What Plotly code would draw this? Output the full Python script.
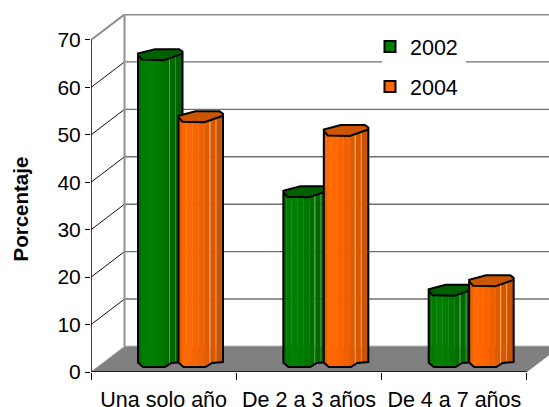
import plotly.graph_objects as go

categories = ["Una solo año", "De 2 a 3 años", "De 4 a 7 años"]
years = ["2002", "2004"]
values_2002 = [64.7, 35.8, 15.0]
values_2004 = [51.6, 48.7, 17.0]
y_ticks = [0, 10, 20, 30, 40, 50, 60, 70]

W, H = 549, 407
L, B, T = 91, 35, 14
PX_X = 145.33
PX_Y = 4.743
DX = 33.5 / PX_X
DY = 25.5 / PX_Y
FONT = "Liberation Sans, Arial, sans-serif"

FRONT_BASE = [(0, 4.5), (5, 0), (27, 0), (33.5, 4), (44.5, 5)]
FRONT_TOP = [(0, 5), (4, 0.5), (26, 0), (33, 2.5), (44.5, 6.5)]
BACK_TOP = [(44.5, 8.5), (41, 11), (17, 11), (8, 8.5), (0, 6.5)]
BAR_START = 47.0
BAR_PITCH = 40.5
BASE_LIFT = 5 / PX_Y
STRIP_EDGES = [0, 3, 8, 14, 20, 26, 31, 32, 37, 38, 44.5]
COLORS = {
    "2002": dict(
        strips=["#006E00", "#007C00", "#008000", "#007C00", "#007800", "#007000",
                "#4FA04F", "#006A00", "#2E8A2E", "#006200"],
        cap="#006000", legend="#008000"),
    "2004": dict(
        strips=["#F06000", "#FF6A00", "#FF6800", "#FA6400", "#F06000", "#E05C00",
                "#FFA868", "#D85800", "#F09050", "#CC5400"],
        cap="#CC5500", legend="#FF6600"),
}

def interp(profile, px):
    for (a, ya), (b, yb) in zip(profile, profile[1:]):
        if a <= px <= b:
            return ya + (yb - ya) * (px - a) / (b - a)
    return profile[-1][1]

traces = []

def poly(xs, ys, fill=None, line=None, width=1, clip=False):
    traces.append(go.Scatter(
        x=xs, y=ys, mode="lines", hoverinfo="skip", showlegend=False,
        fill="toself" if fill else None, fillcolor=fill,
        line=dict(color=line or "rgba(0,0,0,0)", width=width if line else 0),
        cliponaxis=clip))

# floor
poly([0, DX, 3 + DX, 3], [0, DY, DY, 0], fill="#808080", clip=True)
# back wall, diagonals and grid
x_end = (W - L) / PX_X
for v in y_ticks:
    top = v == y_ticks[-1]
    poly([DX, x_end], [v + DY, v + DY], line="#8c8c8c" if top else "#707070", width=2 if top else 1.4)
    if v > 0:
        poly([0, DX], [v, v + DY], line="#8c8c8c" if top else "#111111", width=2 if top else 1)
poly([DX, DX], [DY, y_ticks[-1] + DY], line="#909090", width=2)
poly([0, DX], [0, DY], line="#a0a0a0", width=1)
poly([DX, x_end], [DY, DY], line="#a0a0a0", width=1)

# white panel behind the legend
lx0, lx1 = (382 - L) / PX_X, (466 - L) / PX_X
ly0, ly1 = (H - B - 100) / PX_Y, (H - B - 30) / PX_Y
poly([lx0, lx1, lx1, lx0], [ly0, ly0, ly1, ly1], fill="#ffffff", clip=True)

# bars
for c in range(len(categories)):
    for s, (year, vals) in enumerate(zip(years, [values_2002, values_2004])):
        v = vals[c]
        col = COLORS[year]
        x0 = c + (BAR_START + s * BAR_PITCH) / PX_X
        X = lambda px: x0 + px / PX_X
        base = BASE_LIFT
        for i, color in enumerate(col["strips"]):
            a, b = STRIP_EDGES[i], STRIP_EDGES[i + 1]
            poly([X(a), X(b), X(b), X(a)],
                 [base + interp(FRONT_BASE, a) / PX_Y, base + interp(FRONT_BASE, b) / PX_Y,
                  base + v + interp(FRONT_TOP, b) / PX_Y, base + v + interp(FRONT_TOP, a) / PX_Y],
                 fill=color, line=color, width=0.6)
        cap = FRONT_TOP + BACK_TOP
        poly([X(p[0]) for p in cap] + [X(cap[0][0])],
             [base + v + p[1] / PX_Y for p in cap] + [base + v + cap[0][1] / PX_Y],
             fill=col["cap"], line="#000000", width=2)
        outline = [(0, v + 5 / PX_Y)] + [(p[0], p[1] / PX_Y) for p in FRONT_BASE] + [(44.5, v + 6.5 / PX_Y)]
        poly([X(p[0]) for p in outline], [base + p[1] for p in outline], line="#000000", width=2)

# axis lines
poly([0, 0], [y_ticks[0], y_ticks[-1]], line="#000000", width=1.5)
poly([0, 3], [0, 0], line="#000000", width=1.5)

# legend keys
for year in years:
    traces.append(go.Scatter(
        x=[None], y=[None], mode="markers", name=year, legendgroup=year,
        marker=dict(symbol="square", size=11, color=COLORS[year]["legend"],
                    line=dict(color="#000000", width=2))))

fig = go.Figure(traces)
fig.update_layout(
    width=W, height=H, autosize=False,
    margin=dict(l=L, r=0, t=T, b=B, pad=0, autoexpand=False),
    paper_bgcolor="white", plot_bgcolor="white",
    font=dict(family=FONT, size=21, color="#000000"),
    showlegend=True,
    legend=dict(x=(370 - L) / (W - L), y=1 - (26 - T) / (H - T - B),
                xanchor="left", yanchor="top",
                bgcolor="rgba(0,0,0,0)", borderwidth=0, tracegroupgap=9,
                font=dict(family=FONT, size=21.5)),
    xaxis=dict(range=[0, x_end], showgrid=False, zeroline=False, showline=False, automargin=False,
               tickmode="array", tickvals=[i + 0.5 for i in range(len(categories))],
               ticktext=categories, ticks="", ticklen=0, ticklabelstandoff=12,
               tickfont=dict(family=FONT, size=21.5),
               minor=dict(tickmode="array", tickvals=[0, 1, 2, 3], ticks="outside",
                          ticklen=7, tickwidth=1, tickcolor="#000000", showgrid=False)),
    yaxis=dict(range=[0, (H - T - B) / PX_Y], showgrid=False, zeroline=False, showline=False, automargin=False,
               tickmode="array", tickvals=y_ticks, ticks="outside", ticklen=5,
               tickwidth=1, tickcolor="#000000", tickfont=dict(family=FONT, size=21)),
    annotations=[dict(text="<b>Porcentaje</b>", textangle=-90, showarrow=False,
                      xref="paper", yref="paper",
                      x=(20 - L) / (W - L), y=1 - (209.5 - T) / (H - T - B),
                      xanchor="center", yanchor="middle",
                      font=dict(family=FONT, size=20.5))],
)
fig.write_html("out.html", config={"displayModeBar": False},
               post_script="document.body.style.margin='0';")
